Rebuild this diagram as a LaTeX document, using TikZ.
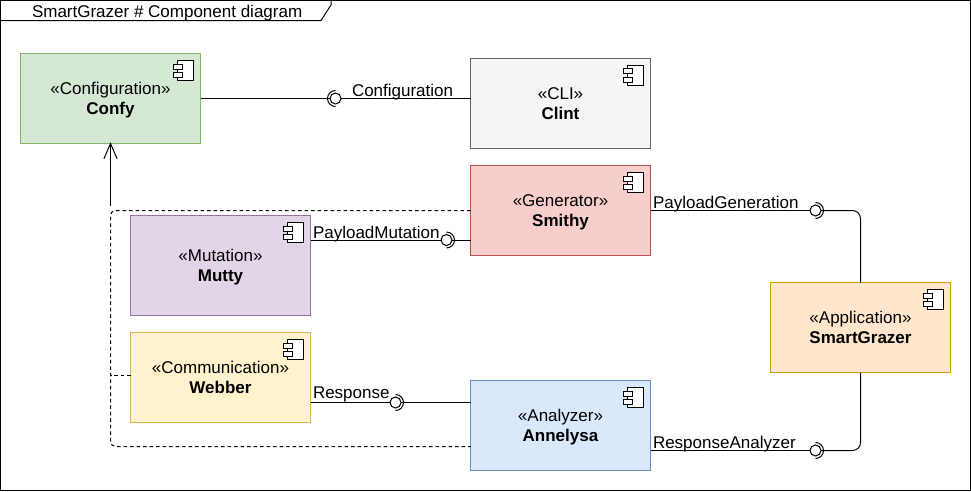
\documentclass[tikz,border=0pt]{standalone}
\usepackage{fontspec}
\setmainfont{Liberation Sans}
\newcommand{\compicon}[1]{%
  \draw[iconline,fill=white] ([shift={(-23,7)}]#1.north east) rectangle ([shift={(-7,27)}]#1.north east);
  \draw[iconline,fill=white] ([shift={(-27,10.5)}]#1.north east) rectangle ([shift={(-18,15.5)}]#1.north east);
  \draw[iconline,fill=white] ([shift={(-27,19)}]#1.north east) rectangle ([shift={(-18,24)}]#1.north east);
}
\newcommand{\sockleft}[1]{\draw[wire] ([shift={(90:8)}]#1.center) arc (90:270:8);}
\newcommand{\sockright}[1]{\draw[wire] ([shift={(-90:8)}]#1.center) arc (-90:90:8);}
\newcommand{\twolines}[2]{\rule{0pt}{18pt}#1\\\rule[-6pt]{0pt}{6pt}\textbf{#2}}
\tikzset{
  wire/.style={line width=1pt,black},
  iconline/.style={line width=1pt,black},
  depline/.style={line width=1pt,black,dash pattern=on 3.5pt off 3pt},
  comp/.style={rectangle,draw=#1,line width=1pt,minimum width=180pt,minimum height=90pt,inner sep=0pt,outer sep=0pt,
    align=center,font=\fontsize{17}{20}\selectfont,text=black},
  sock/.style={circle,draw=black,line width=1pt,minimum size=11pt,inner sep=0pt,outer sep=0pt,fill=white},
  lab/.style={inner sep=0pt,outer sep=0pt,font=\fontsize{17}{20}\selectfont,text=black,anchor=base west},
}
\definecolor{gf}{HTML}{D5E8D4}\definecolor{gd}{HTML}{82B366}
\definecolor{sf}{HTML}{F5F5F5}\definecolor{sd}{HTML}{666666}
\definecolor{rf}{HTML}{F8CECC}\definecolor{rd}{HTML}{B85450}
\definecolor{pf}{HTML}{E1D5E7}\definecolor{pd}{HTML}{9673A6}
\definecolor{yf}{HTML}{FFF2CC}\definecolor{yd}{HTML}{D6B656}
\definecolor{bf}{HTML}{DAE8FC}\definecolor{bd}{HTML}{6C8EBF}
\definecolor{of}{HTML}{FFE6CC}\definecolor{od}{HTML}{D79B00}
\begin{document}
\begin{tikzpicture}[x=1pt,y=-1pt]
\useasboundingbox (0,0) rectangle (971,491);
\fill[white] (0,0) rectangle (971,491);
\node[draw=black,line width=1pt,minimum width=970pt,minimum height=490pt,inner sep=0pt,outer sep=0pt] (frame) at (485.5,245.5) {};
\draw[wire] (0.5,20.5) -- (321,20.5) -- (331,5) -- (331,0.5);
\node[lab] (title) at (32,17) {SmartGrazer \# Component diagram};

\node[comp=gd,fill=gf] (confy) at (110.5,98.5) {\twolines{«Configuration»}{Confy}};
\node[comp=sd,fill=sf] (clint) at (560.5,103) {\twolines{«CLI»}{Clint}};
\node[comp=rd,fill=rf] (smithy) at (560.5,210.5) {\twolines{«Generator»}{Smithy}};
\node[comp=pd,fill=pf,minimum height=100pt] (mutty) at (220.5,265.5) {\twolines{«Mutation»}{Mutty}};
\node[comp=yd,fill=yf] (webber) at (220.5,377.5) {\twolines{«Communication»}{Webber}};
\node[comp=bd,fill=bf] (annelysa) at (560.5,425.5) {\twolines{«Analyzer»}{Annelysa}};
\node[comp=od,fill=of] (app) at (860.5,327.5) {\twolines{«Application»}{SmartGrazer}};
\compicon{confy}\compicon{clint}\compicon{smithy}\compicon{mutty}\compicon{webber}\compicon{annelysa}\compicon{app}

\node[sock] (s1) at (335.5,98.5) {};
\node[sock] (s2) at (446.5,240) {};
\node[sock] (s3) at (395.5,402.5) {};
\node[sock] (s4) at (815.5,210.5) {};
\node[sock] (s5) at (815.5,450.5) {};
\sockleft{s1}\sockright{s2}\sockright{s3}\sockright{s4}\sockright{s5}

\draw[wire] (confy.east) -- (s1.west);
\draw[wire] (s1.east) -- (clint.west |- s1.east);
\draw[wire] (mutty.east |- s2.west) -- (s2.west);
\draw[wire] (s2.east) -- (smithy.west |- s2.east);
\draw[wire] (webber.east |- s3.west) -- (s3.west);
\draw[wire] (s3.east) -- (annelysa.west |- s3.east);
\draw[wire] (smithy.east |- s4.west) -- (s4.west);
\draw[wire] (annelysa.east |- s5.west) -- (s5.west);
\draw[wire,rounded corners=8pt] (s4.east) -| (app.north);
\draw[wire,rounded corners=8pt] (s5.east) -| (app.south);

\coordinate (bus) at (110.5,210.5);
\coordinate (busb) at (110.5,446.5);
\coordinate (webtap) at (130.5,375.5);
\draw[depline,rounded corners=5pt] (smithy.west) -- (bus) -- (busb) -- (annelysa.west |- busb);
\draw[depline] (webtap) -- (webtap -| bus);
\draw[wire] (bus) ++(0,-5) -- (confy.south);
\draw[wire,line cap=round] ([shift={(-6.5,15)}]confy.south) -- (confy.south) -- ([shift={(6.5,15)}]confy.south);

\node[lab] (l1) at (352,96) {Configuration};
\node[lab] (l2) at (313,238) {PayloadMutation};
\node[lab] (l3) at (313,398.5) {Response};
\node[lab] (l4) at (653,208) {PayloadGeneration};
\node[lab] (l5) at (653,448) {ResponseAnalyzer};
\end{tikzpicture}
\end{document}
